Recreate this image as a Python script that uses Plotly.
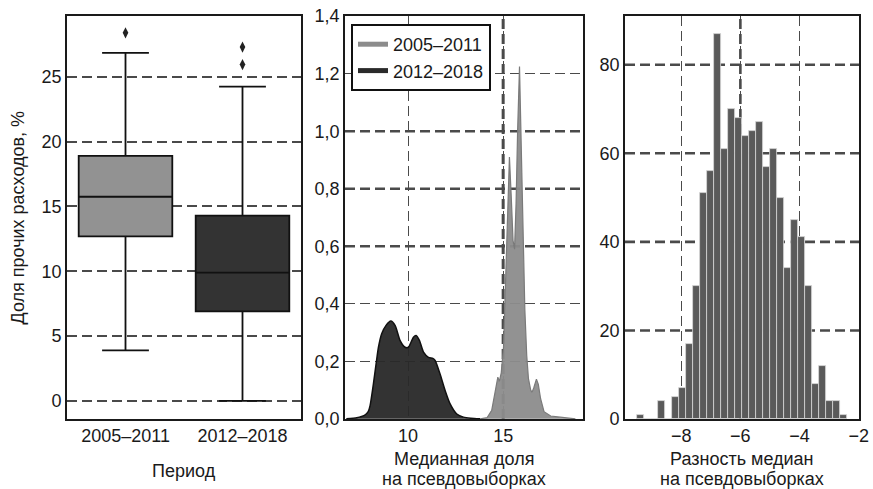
import plotly.graph_objects as go

FONT = "Liberation Sans, Arial, sans-serif"
TXT = "#1a1a1a"

# ---------------- data: left panel (boxplots) ----------------
periods = ["2005–2011", "2012–2018"]
box_q1 = [12.7, 6.9]
box_median = [15.75, 9.9]
box_q3 = [18.9, 14.3]
box_lower = [3.9, 0.0]
box_upper = [26.85, 24.25]
outlier_x = ["2005–2011", "2012–2018", "2012–2018"]
outlier_y = [28.4, 27.3, 25.95]
left_yticks = [0, 5, 10, 15, 20, 25]

# ---------------- data: middle panel (KDE of bootstrap medians) ----------------
kde_late_x = [6.75, 7.3, 7.7, 7.9, 8.0, 8.175, 8.316, 8.44, 8.61, 8.84, 9.09, 9.32, 9.58,
              9.84, 10.02, 10.28, 10.42, 10.6, 10.81, 11.07, 11.3, 11.42, 11.68, 11.95,
              12.21, 12.56, 12.91, 13.3, 13.8]
kde_late_y = [0.0, 0.004, 0.012, 0.025, 0.046, 0.122, 0.191, 0.249, 0.296, 0.325, 0.340,
              0.324, 0.272, 0.249, 0.249, 0.284, 0.290, 0.272, 0.232, 0.214, 0.21, 0.203,
              0.156, 0.098, 0.052, 0.017, 0.006, 0.002, 0.0]
kde_early_x = [13.8, 14.15, 14.4, 14.55, 14.65, 14.72, 14.8, 14.9, 15.02, 15.12, 15.22,
               15.33, 15.42, 15.52, 15.6, 15.68, 15.76, 15.86, 15.95, 16.05, 16.14, 16.24,
               16.33, 16.45, 16.52, 16.62, 16.75, 16.85, 16.97, 17.15, 17.5, 18.0, 18.6, 18.8]
kde_early_y = [0.0, 0.004, 0.03, 0.085, 0.13, 0.145, 0.13, 0.16, 0.25, 0.45, 0.70,
               0.91, 0.78, 0.62, 0.59, 0.75, 1.0, 1.225, 0.95, 0.62, 0.38, 0.22,
               0.14, 0.10, 0.092, 0.11, 0.138, 0.12, 0.07, 0.025, 0.01, 0.006, 0.003, 0.0]
mid_xticks = [10, 15]
mid_yticks = [0.0, 0.2, 0.4, 0.6, 0.8, 1.0, 1.2, 1.4]
mid_yticktext = ["0,0", "0,2", "0,4", "0,6", "0,8", "1,0", "1,2", "1,4"]

# ---------------- data: right panel (histogram of median differences) ----------------
hist_edge0 = -9.506
hist_binw = 0.2375
hist_counts = [1, 0, 0, 4, 0, 5, 7, 17, 30, 51, 56, 87, 61, 70, 68, 64, 65, 67, 57, 61,
               50, 34, 45, 41, 30, 8, 12, 4, 4, 1]
right_xticks = [-8, -6, -4, -2]
right_xticktext = ["−8", "−6", "−4", "−2"]
right_yticks = [0, 20, 40, 60, 80]

hist_x = [hist_edge0 + hist_binw * (i + 0.5) for i in range(len(hist_counts))]

# ---------------- style ----------------
GRID = "#4a4a4a"
DASH = "10px,5px"
thick_mid_y = [0.6, 0.8, 1.0]
thick_mid_x = [15]
thick_right_y = [20, 40, 60, 80]
thick_right_x = [-6]

fig = go.Figure()

# left panel
fills = ["#929292", "#333333"]
for i, p in enumerate(periods):
    fig.add_trace(go.Box(
        x=[p], q1=[box_q1[i]], median=[box_median[i]], q3=[box_q3[i]],
        lowerfence=[box_lower[i]], upperfence=[box_upper[i]],
        fillcolor=fills[i], line=dict(color="#111111", width=1.8),
        width=0.8, whiskerwidth=0.5, boxpoints=False, showlegend=False,
        xaxis="x", yaxis="y"))
fig.add_trace(go.Scatter(
    x=outlier_x, y=outlier_y, mode="markers",
    marker=dict(symbol="diamond-tall", size=8, color="#222222"),
    showlegend=False, xaxis="x", yaxis="y"))

# middle panel
fig.add_trace(go.Scatter(
    x=kde_late_x, y=kde_late_y, mode="lines", fill="tozeroy",
    line=dict(color="#111111", width=1.5, shape="spline", smoothing=0.6),
    fillcolor="rgba(40,40,40,0.95)", showlegend=False, xaxis="x2", yaxis="y2"))
fig.add_trace(go.Scatter(
    x=kde_early_x, y=kde_early_y, mode="lines", fill="tozeroy",
    line=dict(color="#7a7a7a", width=1.2),
    fillcolor="rgba(140,140,140,0.95)", showlegend=False, xaxis="x2", yaxis="y2"))
fig.add_trace(go.Scatter(x=[None], y=[None], mode="lines", name="2005–2011",
                         line=dict(color="#8c8c8c", width=5), xaxis="x2", yaxis="y2"))
fig.add_trace(go.Scatter(x=[None], y=[None], mode="lines", name="2012–2018",
                         line=dict(color="#2a2a2a", width=5), xaxis="x2", yaxis="y2"))

# right panel
fig.add_trace(go.Bar(
    x=hist_x, y=hist_counts, width=hist_binw,
    marker=dict(color="#5a5a5a", line=dict(color="#d8d8d8", width=0.8)),
    showlegend=False, xaxis="x3", yaxis="y3"))

# thick grid overlays
shapes = []
for v in thick_mid_y:
    shapes.append(dict(type="line", xref="x2 domain", yref="y2", x0=0, x1=1, y0=v, y1=v,
                       line=dict(color=GRID, width=2.6, dash=DASH), layer="below"))
for v in thick_mid_x:
    shapes.append(dict(type="line", xref="x2", yref="y2 domain", x0=v, x1=v, y0=0, y1=1,
                       line=dict(color=GRID, width=3, dash=DASH), layer="below"))
for v in thick_right_y:
    shapes.append(dict(type="line", xref="x3 domain", yref="y3", x0=0, x1=1, y0=v, y1=v,
                       line=dict(color=GRID, width=2.6, dash=DASH), layer="below"))
for v in thick_right_x:
    shapes.append(dict(type="line", xref="x3", yref="y3 domain", x0=v, x1=v, y0=0, y1=1,
                       line=dict(color=GRID, width=2.6, dash=DASH), layer="below"))

W, H = 873, 489
def px(a, b):
    return [a / W, b / W]
ydom = [(H - 419) / H, (H - 16) / H]

axis_common = dict(showline=True, mirror=True, linecolor="#1a1a1a", linewidth=1.6,
                   ticks="", zeroline=False,
                   tickfont=dict(family=FONT, size=18, color=TXT))

fig.update_layout(
    width=W, height=H, paper_bgcolor="white", plot_bgcolor="white",
    margin=dict(l=0, r=0, t=0, b=0, autoexpand=False),
    font=dict(family=FONT, size=18, color=TXT),
    barmode="overlay", bargap=0,
    xaxis=dict(domain=px(67, 301), type="category", range=[-0.5, 1.5], showgrid=False,
               **axis_common),
    yaxis=dict(domain=ydom, range=[-1.4, 29.7], tickvals=left_yticks, showgrid=True,
               gridcolor=GRID, gridwidth=2.2, griddash=DASH, **axis_common),
    xaxis2=dict(domain=px(345, 583), anchor="y2", range=[6.68, 19.2], tickvals=mid_xticks,
                showgrid=True, gridcolor=GRID, gridwidth=1.3, griddash=DASH, **axis_common),
    yaxis2=dict(domain=ydom, anchor="x2", range=[-0.0005, 1.4005], tickvals=mid_yticks,
                ticktext=mid_yticktext, showgrid=True, gridcolor=GRID, gridwidth=1.3,
                griddash=DASH, **axis_common),
    xaxis3=dict(domain=px(625, 859), anchor="y3", range=[-9.9, -1.99], tickvals=right_xticks,
                ticktext=right_xticktext, showgrid=True, gridcolor=GRID, gridwidth=1.4,
                griddash=DASH, **axis_common),
    yaxis3=dict(domain=ydom, anchor="x3", range=[0, 91], tickvals=right_yticks,
                showgrid=False, **axis_common),
    shapes=shapes,
    legend=dict(x=351 / W, y=(H - 24) / H, xanchor="left", yanchor="top",
                bgcolor="white", bordercolor="#111111", borderwidth=2,
                font=dict(family=FONT, size=18, color=TXT), itemwidth=30,
                tracegroupgap=0),
)

ann = [
    dict(text="Доля прочих расходов, %", x=17 / W, y=(H - 217.5) / H, textangle=-90),
    dict(text="Период", x=184 / W, y=(H - 471) / H),
    dict(text="Медианная доля", x=464 / W, y=(H - 459) / H),
    dict(text="на псевдовыборках", x=464 / W, y=(H - 478.5) / H),
    dict(text="Разность медиан", x=742 / W, y=(H - 459) / H),
    dict(text="на псевдовыборках", x=742 / W, y=(H - 478.5) / H),
]
for a in ann:
    fig.add_annotation(xref="paper", yref="paper", showarrow=False,
                       xanchor="center", yanchor="middle",
                       font=dict(family=FONT, size=18, color=TXT), **a)

fig.write_html("out.html",
               config={"displayModeBar": False},
               post_script="document.body.style.margin='0';"
                           "document.body.style.overflow='hidden';")
